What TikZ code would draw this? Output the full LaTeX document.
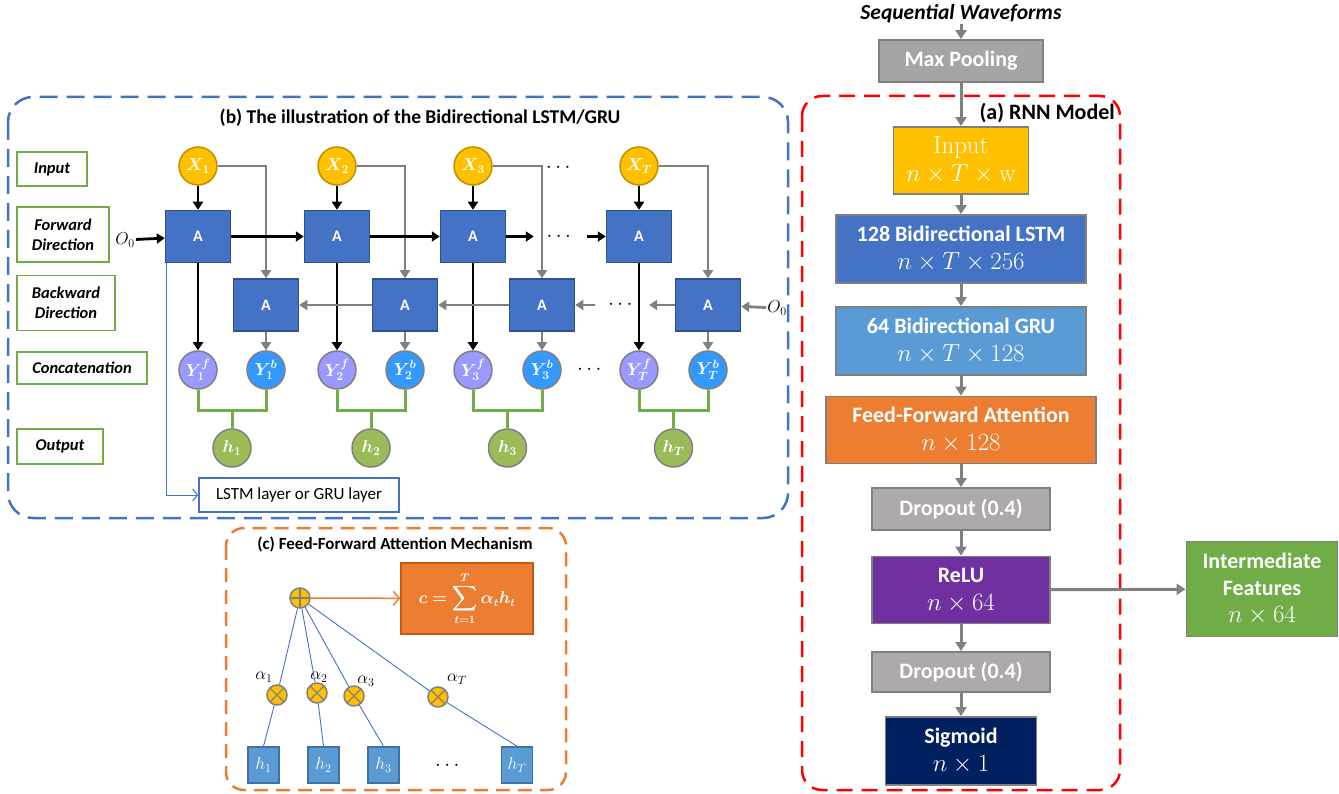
\documentclass[tikz,border=0pt]{standalone}
\usepackage[no-math]{fontspec}
\setmainfont{Carlito}
\usepackage{amsmath}
\usepackage{bm}
\usetikzlibrary{positioning}
\usetikzlibrary{arrows.meta}

\definecolor{myblue}{HTML}{4472C4}
\definecolor{cellborder}{HTML}{2F528F}
\definecolor{lightblue}{HTML}{5B9BD5}
\definecolor{hborder}{HTML}{41719C}
\definecolor{myorange}{HTML}{ED7D31}
\definecolor{darkorange}{HTML}{C55A11}
\definecolor{mygold}{HTML}{FFC000}
\definecolor{goldborder}{HTML}{BF9000}
\definecolor{poolgray}{HTML}{A5A5A5}
\definecolor{dropgray}{HTML}{AEAAAA}
\definecolor{mypurple}{HTML}{7030A0}
\definecolor{navy}{HTML}{002060}
\definecolor{mygreen}{HTML}{70AD47}
\definecolor{hgreen}{HTML}{9BBB59}
\definecolor{fwdviolet}{HTML}{9999FF}
\definecolor{bwdblue}{HTML}{3399FF}
\definecolor{linegray}{HTML}{808080}

\newcommand{\tdim}[1]{{\fontsize{23}{28}\selectfont$#1$}}

\tikzset{
  layer/.style={rectangle, draw=linegray, line width=1.8pt, text=white, align=center, inner sep=0pt, font=\fontsize{22}{28}\selectfont\bfseries},
  flow/.style={linegray, line width=3pt, -{Triangle[length=9pt,width=11pt]}},
  title/.style={font=\fontsize{19.5}{22}\selectfont\bfseries, inner sep=0pt},
  rowlabel/.style={draw=mygreen, line width=1.5pt, align=center, inner sep=0pt, font=\fontsize{16.5}{20}\selectfont\bfseries\itshape},
  cell/.style={rectangle, draw=cellborder, fill=myblue, line width=1.5pt, minimum width=65pt, minimum height=52pt, text=white, font=\fontsize{16}{18}\selectfont\bfseries},
  bubble/.style={circle, minimum size=38pt, inner sep=0pt, line width=1.5pt, draw=linegray, text=white, font=\fontsize{18.5}{20}\selectfont},
  fwd/.style={black, line width=2.8pt, -{Triangle[length=8pt,width=10pt]}},
  bwd/.style={linegray, line width=2.8pt, -{Triangle[length=8pt,width=10pt]}},
  cat/.style={mygreen, line width=3pt},
  dots/.style={font=\fontsize{22}{22}\selectfont, inner sep=0pt},
  attn/.style={myblue, line width=0.9pt},
  gate/.style={circle, minimum size=20pt, inner sep=0pt, fill=mygold, draw=linegray, line width=1.5pt},
  plusgate/.style={gate, path picture={\draw[linegray, line width=1.2pt] (path picture bounding box.north) -- (path picture bounding box.south) (path picture bounding box.west) -- (path picture bounding box.east);}},
  timesgate/.style={gate, path picture={\draw[linegray, line width=1.2pt] (path picture bounding box.north west) -- (path picture bounding box.south east) (path picture bounding box.north east) -- (path picture bounding box.south west);}},
  hbox/.style={rectangle, fill=lightblue, draw=hborder, line width=1.5pt, minimum width=31pt, minimum height=36pt, inner sep=0pt, text=white, font=\fontsize{18.5}{20}\selectfont},
  alphalbl/.style={inner sep=0pt, font=\fontsize{16.5}{18}\selectfont}
}

\begin{document}
\begin{tikzpicture}[x=1pt,y=-1pt]
\useasboundingbox (0,0) rectangle (1339,794);

\draw[myblue, line width=2.5pt, dash pattern=on 18pt off 9pt, rounded corners=25pt] (8,97) rectangle (788,518);
\draw[myorange, line width=2.5pt, dash pattern=on 14pt off 8pt, rounded corners=18pt] (226,528) rectangle (566,790);
\draw[red, line width=2.5pt, dash pattern=on 16pt off 9pt, rounded corners=20pt] (802,96) rectangle (1120,790);

\node[title] (btitle) at (420,118) {(b) The illustration of the Bidirectional LSTM/GRU};
\node[title, font=\fontsize{17}{20}\selectfont\bfseries] (ctitle) at (395,544) {(c) Feed-Forward Attention Mechanism};
\node[title, font=\fontsize{22}{24}\selectfont\bfseries, anchor=east] (atitle) at (1115,113) {(a) RNN Model};

\node[rowlabel, minimum width=70pt, minimum height=34pt] (lin) at (52,169) {Input};
\node[rowlabel, minimum width=92pt, minimum height=55pt] (lfw) at (63,234.5) {Forward\\Direction};
\node[rowlabel, minimum width=98pt, minimum height=55pt] (lbw) at (66,303) {Backward\\Direction};
\node[rowlabel, minimum width=130pt, minimum height=32pt] (lcat) at (82,368) {Concatenation};
\node[rowlabel, minimum width=86pt, minimum height=35pt] (lout) at (60,446.5) {Output};

\foreach \i/\f/\b in {1/198/266, 2/337/405, 3/473/542, T/639/708} {
  \node[bubble, fill=mygold, draw=goldborder] (x\i) at (\f,166) {$\bm{X_{\i}}$};
  \node[cell] (fa\i) at (\f,236.5) {A};
  \node[cell] (ba\i) at (\b,305) {A};
  \node[bubble, fill=fwdviolet] (yf\i) at (\f,370) {$\bm{Y^{f}_{\i}}$};
  \node[bubble, fill=bwdblue] (yb\i) at (\b,370) {$\bm{Y^{b}_{\i}}$};
  \node[bubble, fill=hgreen] (h\i) at ({(\f+\b)/2},448) {$\bm{h_{\i}}$};
  \coordinate (j\i) at ({(\f+\b)/2},410);
  \draw[fwd] (x\i) -- (fa\i);
  \draw[bwd] (x\i.east) -| (ba\i.north);
  \draw[fwd] (fa\i) -- (yf\i);
  \draw[bwd] (ba\i) -- (yb\i);
  \draw[cat] (yf\i.south) |- (j\i) -| (yb\i.south);
  \draw[cat] (j\i) -- (h\i);
}

\node[font=\fontsize{17}{18}\selectfont, inner sep=1pt] (o0f) at (125,240) {$O_0$};
\draw[fwd] (o0f) -- (fa1);
\draw[fwd] (fa1) -- (fa2);
\draw[fwd] (fa2) -- (fa3);
\node[dots, minimum width=53pt] (fdots) at (560.5,236.5) {$\cdots$};
\draw[fwd] (fa3) -- (fdots);
\draw[fwd] (fdots) -- (faT);

\node[font=\fontsize{17}{18}\selectfont, inner sep=1pt] (o0b) at (777,308) {$O_0$};
\draw[bwd] (o0b) -- (baT);
\node[dots, minimum width=54pt] (bdots) at (622,305) {$\cdots$};
\draw[bwd] (baT) -- (bdots);
\draw[bwd] (bdots) -- (ba3);
\draw[bwd] (ba3) -- (ba2);
\draw[bwd] (ba2) -- (ba1);

\node[dots] (xdots) at (560,168) {$\cdots$};
\node[dots] (ydots) at (591,370) {$\cdots$};

\node[draw=myblue, line width=1.5pt, minimum width=200pt, minimum height=34pt, inner sep=0pt, font=\fontsize{17}{19}\selectfont] (cellkind) at (299,495) {LSTM layer or GRU layer};
\draw[myblue, line width=1pt, -{Straight Barb[length=5pt,width=12pt]}] ([xshift=2pt]fa1.south west) |- (cellkind.west);

\node[plusgate] (sum) at (300,598) {};
\node[rectangle, fill=myorange, draw=darkorange, line width=1.5pt, minimum width=132pt, minimum height=71pt, text=white, font=\fontsize{16}{18}\selectfont] (ctx) at (467,598.5) {$\displaystyle\bm{c=\sum_{t=1}^{T}\alpha_t h_t}$};
\draw[myorange, line width=1.5pt, -{Straight Barb[length=6pt,width=14pt]}] (sum) -- (ctx);

\foreach \i/\ax/\ay/\lx/\ly/\hx in {1/277/695/264/677/263.5, 2/317/693/319/677/323.5, 3/354/696/366/681/383.5, T/438/697/457/679/517} {
  \node[timesgate] (w\i) at (\ax,\ay) {};
  \node[alphalbl] (lab\i) at (\lx,\ly) {$\alpha_{\i}$};
  \node[hbox] (hb\i) at (\hx,765) {$h_{\i}$};
  \draw[attn] (sum) -- (w\i);
  \draw[attn] (w\i) -- (hb\i.north);
}
\node[dots] (hdots) at (449,766) {$\cdots$};

\node[font=\fontsize{21.5}{24}\selectfont\bfseries\itshape, inner sep=1pt] (waves) at (961,14) {Sequential Waveforms};
\node[layer, fill=poolgray, minimum width=164pt, minimum height=42pt] (pool) at (961,61) {Max Pooling};
\node[layer, fill=mygold, minimum width=135pt, minimum height=67pt] (input) at (961,160.5) {\tdim{\mathrm{Input}}\\\tdim{n\times T\times\mathrm{w}}};
\node[layer, fill=myblue, minimum width=250pt, minimum height=68pt] (lstm) at (961,249) {128 Bidirectional LSTM\\\tdim{n\times T\times 256}};
\node[layer, fill=lightblue, minimum width=250pt, minimum height=68pt] (gru) at (961,341) {64 Bidirectional GRU\\\tdim{n\times T\times 128}};
\node[layer, fill=myorange, minimum width=270pt, minimum height=67pt] (ffa) at (961,430) {Feed-Forward Attention\\\tdim{n\times 128}};
\node[layer, fill=dropgray, minimum width=178pt, minimum height=42pt] (drop1) at (961,509) {Dropout (0.4)};
\node[layer, fill=mypurple, minimum width=178pt, minimum height=67pt] (relu) at (961,590) {ReLU\\\tdim{n\times 64}};
\node[layer, fill=dropgray, minimum width=178pt, minimum height=40pt] (drop2) at (961,672) {Dropout (0.4)};
\node[layer, fill=navy, minimum width=151pt, minimum height=68pt] (sigm) at (961,751) {Sigmoid\\\tdim{n\times 1}};
\node[layer, fill=mygreen, minimum width=151pt, minimum height=95pt, font=\fontsize{22}{27}\selectfont\bfseries] (inter) at (1262,589) {Intermediate\\Features\\\tdim{n\times 64}};

\draw[flow] (waves) -- (pool);
\draw[flow] (pool) -- (input);
\draw[flow] (input) -- (lstm);
\draw[flow] (lstm) -- (gru);
\draw[flow] (gru) -- (ffa);
\draw[flow] (ffa) -- (drop1);
\draw[flow] (drop1) -- (relu);
\draw[flow] (relu) -- (drop2);
\draw[flow] (drop2) -- (sigm);
\draw[flow] (relu) -- (inter);
\end{tikzpicture}
\end{document}
